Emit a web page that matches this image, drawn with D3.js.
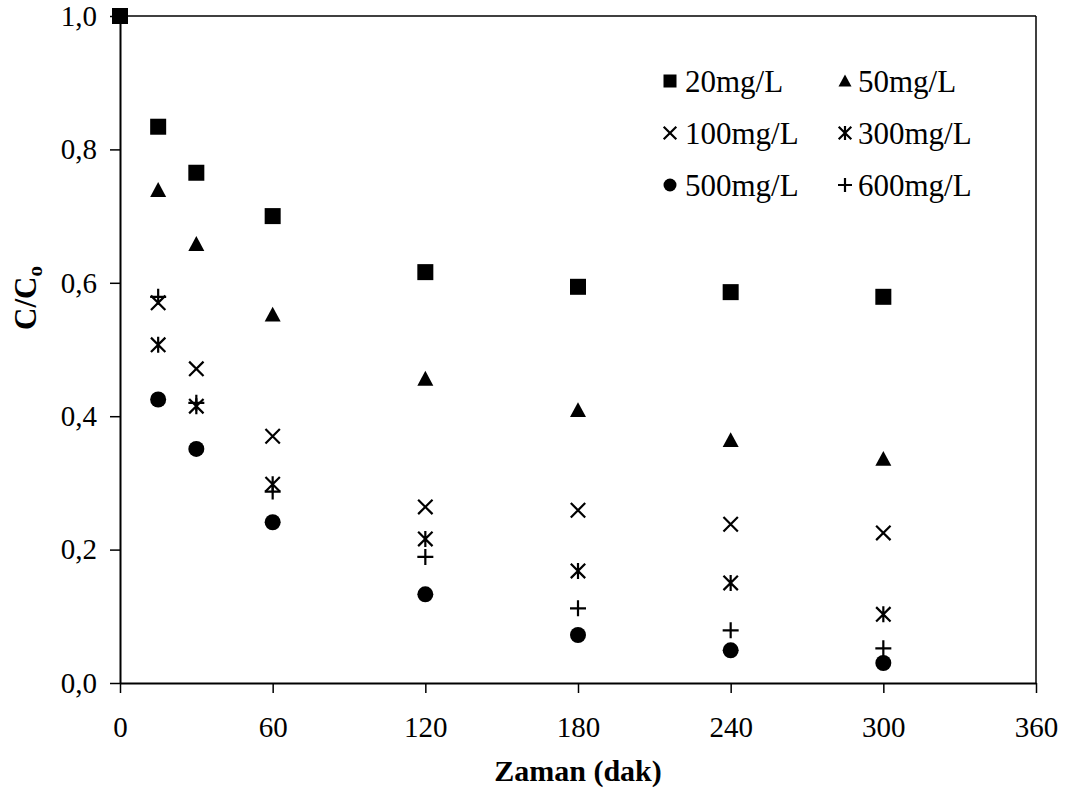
<!DOCTYPE html>
<html>
<head>
<meta charset="utf-8">
<script src="https://cdn.jsdelivr.net/npm/d3@7"></script>
<style>
  body { margin: 0; background: #fff; }
  svg text { font-family: "Liberation Serif", "Times New Roman", serif; fill: #000; }
</style>
</head>
<body>
<svg id="chart" width="1066" height="800"></svg>
<script>
// time points (dak)
var times = [0, 15, 30, 60, 120, 180, 240, 300];
var timesNoZero = [15, 30, 60, 120, 180, 240, 300];

var c20 = [1.0, 0.834, 0.765, 0.700, 0.616, 0.594, 0.586, 0.579];
var c50 = [0.739, 0.658, 0.552, 0.456, 0.409, 0.364, 0.336];
var c100 = [0.570, 0.471, 0.370, 0.264, 0.259, 0.238, 0.225];
var c300 = [0.507, 0.415, 0.298, 0.216, 0.168, 0.150, 0.103];
var c500 = [0.425, 0.351, 0.241, 0.133, 0.072, 0.049, 0.030];
var c600 = [0.579, 0.420, 0.287, 0.189, 0.112, 0.079, 0.052];

var xTicks = [0, 60, 120, 180, 240, 300, 360];
var yTicks = [0, 0.2, 0.4, 0.6, 0.8, 1.0];

var series = [
  {name: '20mg/L', sym: 'square', t: times, v: c20},
  {name: '50mg/L', sym: 'triangle', t: timesNoZero, v: c50},
  {name: '100mg/L', sym: 'cross', t: timesNoZero, v: c100},
  {name: '300mg/L', sym: 'star', t: timesNoZero, v: c300},
  {name: '500mg/L', sym: 'circle', t: timesNoZero, v: c500},
  {name: '600mg/L', sym: 'plus', t: timesNoZero, v: c600}
];

var svg = d3.select('#chart');
var x = d3.scaleLinear().domain([0, 360]).range([120, 1036]);
var y = d3.scaleLinear().domain([0, 1]).range([683, 16]);

// frame: top and right
svg.append('line').attr('x1', 120).attr('x2', 1036).attr('y1', 16).attr('y2', 16)
  .attr('stroke', '#000').attr('stroke-width', 1.5);
svg.append('line').attr('x1', 1036).attr('x2', 1036).attr('y1', 16).attr('y2', 683)
  .attr('stroke', '#000').attr('stroke-width', 1.5);

var fmt = function(d) { return d3.format('.1f')(d).replace('.', ','); };

var gx = svg.append('g').attr('transform', 'translate(0,683)')
  .call(d3.axisBottom(x).tickValues(xTicks).tickSize(10).tickPadding(23).tickSizeOuter(0));
var gy = svg.append('g').attr('transform', 'translate(120,0)')
  .call(d3.axisLeft(y).tickValues(yTicks).tickFormat(fmt).tickSize(10).tickPadding(13).tickSizeOuter(0));

[gx, gy].forEach(function(g) {
  g.select('.domain').attr('stroke', '#000').attr('stroke-width', 2);
  g.selectAll('.tick line').attr('stroke', '#000').attr('stroke-width', 1.5);
  g.selectAll('.tick text').attr('font-size', 29)
    .attr('font-family', '"Liberation Serif", serif').attr('fill', '#000');
});

// axis titles
svg.append('text').attr('x', 578).attr('y', 781).attr('text-anchor', 'middle')
  .attr('font-size', 30).attr('font-weight', 'bold').text('Zaman (dak)');

var yt = svg.append('text').attr('transform', 'translate(36,298) rotate(-90)')
  .attr('text-anchor', 'middle').attr('font-size', 31).attr('font-weight', 'bold');
yt.append('tspan').text('C/C');
yt.append('tspan').attr('font-size', 21).attr('dy', 6).text('o');

function drawSymbol(g, sym, s) {
  // s = half size
  if (sym === 'square') {
    g.append('rect').attr('x', -s).attr('y', -s).attr('width', 2 * s).attr('height', 2 * s).attr('fill', '#000');
  } else if (sym === 'triangle') {
    g.append('path').attr('d', 'M0,' + (-s) + 'L' + s + ',' + (s * 0.85) + 'L' + (-s) + ',' + (s * 0.85) + 'Z').attr('fill', '#000');
  } else if (sym === 'circle') {
    g.append('circle').attr('r', s).attr('fill', '#000');
  } else {
    var a = s * 0.9, p = '';
    if (sym === 'cross' || sym === 'star') p += 'M' + (-a) + ',' + (-a) + 'L' + a + ',' + a + 'M' + (-a) + ',' + a + 'L' + a + ',' + (-a);
    if (sym === 'star') p += 'M0,' + (-s) + 'L0,' + s;
    if (sym === 'plus') p += 'M' + (-s) + ',0L' + s + ',0M0,' + (-s) + 'L0,' + s;
    g.append('path').attr('d', p).attr('stroke', '#000').attr('stroke-width', 2.2).attr('fill', 'none');
  }
}

// points
series.slice().reverse().forEach(function(sr) {
  var pts = sr.t.map(function(t, i) { return {t: t, v: sr.v[i]}; });
  svg.append('g').selectAll('g').data(pts).enter().append('g')
    .attr('transform', function(d) { return 'translate(' + x(d.t) + ',' + y(d.v) + ')'; })
    .each(function() { drawSymbol(d3.select(this), sr.sym, 8); });
});

// legend
var legX = [670, 845], legY = [81, 133, 185];
series.forEach(function(sr, i) {
  var col = i % 2, row = Math.floor(i / 2);
  var g = svg.append('g').attr('transform', 'translate(' + legX[col] + ',' + legY[row] + ')');
  drawSymbol(g, sr.sym, sr.sym === 'cross' || sr.sym === 'star' || sr.sym === 'plus' ? 7 : 6.5);
  g.append('text').attr('x', col === 0 ? 15 : 13).attr('y', 11).attr('font-size', 31).text(sr.name);
});
</script>
</body>
</html>
